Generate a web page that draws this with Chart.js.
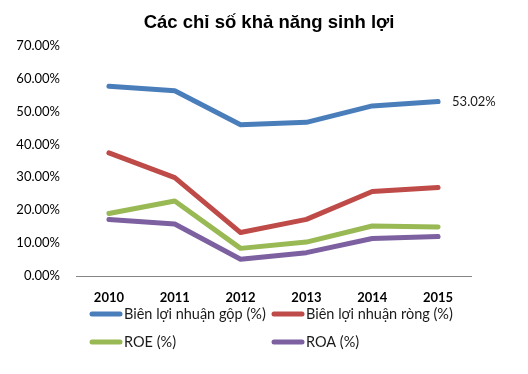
<!DOCTYPE html>
<html>
<head>
<meta charset="utf-8">
<script src="https://cdn.jsdelivr.net/npm/chart.js@4.4.0/dist/chart.umd.js"></script>
<style>
  html, body { margin: 0; padding: 0; background: #fff; }
  #wrap { width: 528px; height: 374px; }
</style>
</head>
<body>
<div id="wrap"><canvas id="chart" width="528" height="374"></canvas></div>
<script>
// Data (percent)
const years = ['2010', '2011', '2012', '2013', '2014', '2015'];
const grossMargin = [57.7, 56.3, 46.0, 46.7, 51.7, 53.02];
const netMargin = [37.4, 29.9, 13.2, 17.2, 25.7, 26.9];
const roe = [19.0, 22.8, 8.4, 10.3, 15.2, 14.9];
const roa = [17.2, 15.8, 5.1, 7.1, 11.4, 12.0];
const seriesNames = ['Biên lợi nhuận gộp (%)', 'Biên lợi nhuận ròng (%)', 'ROE (%)', 'ROA (%)'];
const seriesColors = ['#4A7EBB', '#BE4B48', '#98B954', '#7D60A0'];
const yTicks = [0, 10, 20, 30, 40, 50, 60, 70];

const labelFont = 'Lato, "Open Sans", sans-serif';

function makeSet(i, values) {
    return {
        label: seriesNames[i],
        data: values,
        borderColor: seriesColors[i],
        backgroundColor: seriesColors[i],
        borderWidth: 5,
        borderCapStyle: 'round',
        borderJoinStyle: 'round',
        pointRadius: 0,
        tension: 0
    };
}

// two-column legend under the axis, like the spreadsheet original
const legendPlugin = {
    id: 'twoColLegend',
    afterDraw(chart) {
        const ctx = chart.ctx;
        const cols = [90, 272];
        const rows = [314, 342];
        ctx.save();
        ctx.font = '14.5px ' + labelFont;
        ctx.textBaseline = 'middle';
        ctx.lineCap = 'round';
        chart.data.datasets.forEach(function(ds, i) {
            const x = cols[i % 2];
            const y = rows[Math.floor(i / 2)];
            ctx.strokeStyle = ds.borderColor;
            ctx.lineWidth = 5;
            ctx.beginPath();
            ctx.moveTo(x + 2, y);
            ctx.lineTo(x + 30, y);
            ctx.stroke();
            ctx.fillStyle = '#1a1a1a';
            ctx.fillText(ds.label, x + 34, y);
        });
        ctx.restore();
    }
};

// value label at the last point of the first series
const lastLabelPlugin = {
    id: 'lastLabel',
    afterDatasetsDraw(chart) {
        const meta = chart.getDatasetMeta(0);
        const pt = meta.data[meta.data.length - 1];
        const v = chart.data.datasets[0].data[meta.data.length - 1];
        const ctx = chart.ctx;
        ctx.save();
        ctx.font = '13px ' + labelFont;
        ctx.fillStyle = '#1a1a1a';
        ctx.textBaseline = 'middle';
        ctx.fillText(v.toFixed(2) + '%', pt.x + 14, pt.y);
        ctx.restore();
    }
};

new Chart(document.getElementById('chart'), {
    type: 'line',
    data: {
        labels: years,
        datasets: [
            makeSet(0, grossMargin),
            makeSet(1, netMargin),
            makeSet(2, roe),
            makeSet(3, roa)
        ]
    },
    options: {
        responsive: false,
        animation: false,
        layout: { padding: { left: 10, right: 0, top: 0, bottom: 0 } },
        plugins: {
            legend: { display: false },
            tooltip: { enabled: false },
            title: {
                display: true,
                text: 'Các chỉ số khả năng sinh lợi',
                color: '#000',
                font: { family: '"Liberation Sans", Arial, sans-serif', size: 18.5, weight: 'bold' },
                padding: { top: 12, bottom: 11.5 }
            }
        },
        scales: {
            x: {
                offset: true,
                grid: { display: false, drawTicks: false },
                border: { display: true, color: '#868686', width: 1 },
                ticks: {
                    color: '#000',
                    padding: 14,
                    font: { family: labelFont, size: 13, weight: 'bold' }
                },
                afterFit(scale) { scale.height = 98; }
            },
            y: {
                min: 0,
                max: 70,
                grid: { display: false, drawTicks: false },
                border: { display: false },
                afterBuildTicks(scale) {
                    scale.ticks = yTicks.map(function(v) { return { value: v }; });
                },
                ticks: {
                    color: '#000',
                    padding: 16,
                    font: { family: labelFont, size: 13 },
                    callback: function(v) { return v.toFixed(2) + '%'; }
                },
                afterFit(scale) { scale.width = 66; }
            },
            // empty right-hand axis keeps the plot narrower while the title stays centred on the canvas
            yRight: {
                position: 'right',
                min: 0,
                max: 70,
                grid: { display: false, drawTicks: false },
                border: { display: false },
                ticks: { display: false },
                afterFit(scale) { scale.width = 57; }
            }
        }
    },
    plugins: [legendPlugin, lastLabelPlugin]
});
</script>
</body>
</html>
